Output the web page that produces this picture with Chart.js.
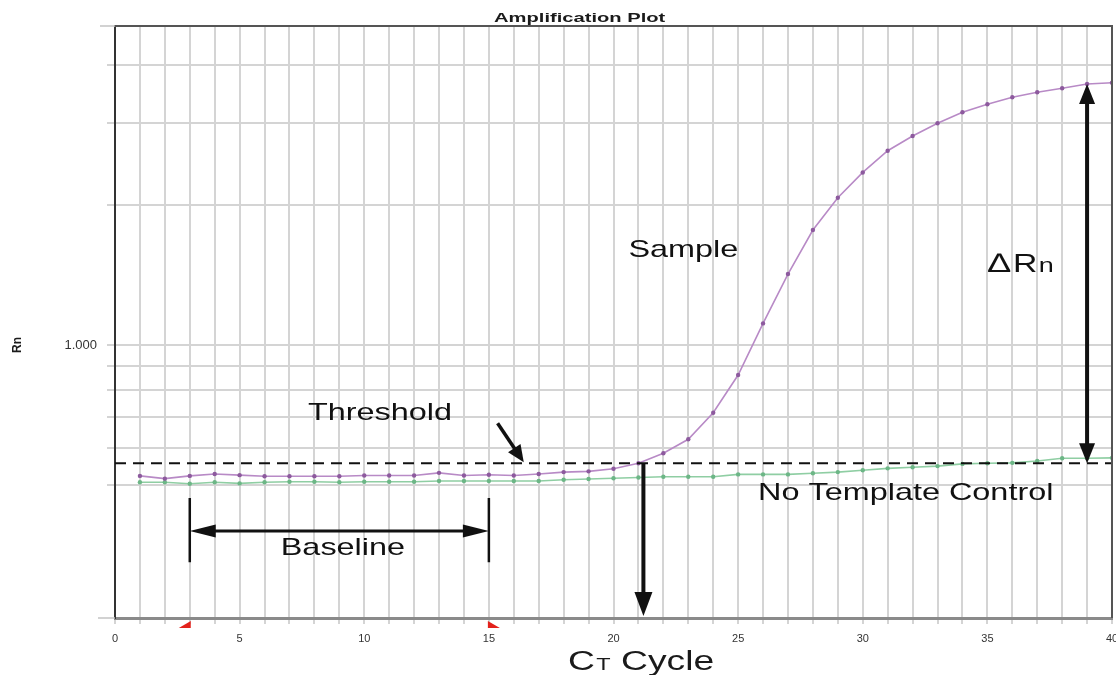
<!DOCTYPE html>
<html>
<head>
<meta charset="utf-8">
<title>Amplification Plot</title>
<script src="https://cdn.jsdelivr.net/npm/chart.js@4.4.1/dist/chart.umd.min.js"></script>
<style>
  html, body { margin: 0; padding: 0; background: #ffffff; }
  #wrap { width: 1116px; height: 675px; position: relative; }
  canvas { display: block; }
</style>
</head>
<body>
<div id="wrap"><canvas id="plot" width="1116" height="675"></canvas></div>
<script>
// ---- data -------------------------------------------------------------
const cycles = [1,2,3,4,5,6,7,8,9,10,11,12,13,14,15,16,17,18,19,20,
                21,22,23,24,25,26,27,28,29,30,31,32,33,34,35,36,37,38,39,40];

// normalised reporter signal (Rn) of the amplified sample
const sampleRn = [0.523,0.516,0.523,0.528,0.525,0.522,0.522,0.522,0.522,0.524,
                  0.524,0.524,0.531,0.524,0.526,0.524,0.528,0.533,0.535,0.542,
                  0.557,0.585,0.627,0.715,0.862,1.113,1.421,1.767,2.074,2.350,
                  2.617,2.815,2.998,3.166,3.293,3.410,3.495,3.565,3.641,3.665];

// normalised reporter signal (Rn) of the no-template control
const ntcRn = [0.507,0.507,0.503,0.507,0.504,0.507,0.508,0.508,0.507,0.508,
               0.508,0.508,0.510,0.510,0.510,0.510,0.510,0.513,0.515,0.517,
               0.519,0.521,0.521,0.521,0.527,0.527,0.527,0.530,0.533,0.538,
               0.543,0.546,0.549,0.555,0.557,0.558,0.563,0.571,0.571,0.572];

const thresholdRn = 0.557;      // detection threshold
const ctCycle = 21.2;           // cycle where the sample crosses the threshold
const baselineStart = 3;        // baseline window
const baselineEnd = 15;
const deltaCycle = 39;          // cycle where delta Rn is marked

const xRange = [0, 40];
const yRange = [0.2588, 4.853];
const yGridValues = [0.5, 0.6, 0.7, 0.8, 0.9, 1, 2, 3, 4];
const yLabelValues = [1];
const xLabelStep = 5;

// ---- helpers ----------------------------------------------------------
const FONT = '"Liberation Sans", Arial, Helvetica, sans-serif';
const STRETCH = 1.35;

function stretchedText(ctx, parts, x, y, sx) {
  // parts: [{text, size, bold, dx, dy}] drawn one after another, left aligned
  ctx.save();
  ctx.translate(x, y);
  ctx.scale(sx, 1);
  let cx = 0;
  for (const p of parts) {
    ctx.font = (p.bold ? 'bold ' : '') + p.size + 'px ' + FONT;
    ctx.fillText(p.text, cx + (p.dx || 0), p.dy || 0);
    cx += ctx.measureText(p.text).width + (p.dx || 0);
  }
  ctx.restore();
}

function arrowHead(ctx, x, y, ang, len, halfW) {
  ctx.beginPath();
  ctx.moveTo(x, y);
  ctx.lineTo(x - len * Math.cos(ang) + halfW * Math.sin(ang), y - len * Math.sin(ang) - halfW * Math.cos(ang));
  ctx.lineTo(x - len * Math.cos(ang) - halfW * Math.sin(ang), y - len * Math.sin(ang) + halfW * Math.cos(ang));
  ctx.closePath();
  ctx.fill();
}

// line from (x1,y1) to (x2,y2) with heads at the requested ends
function arrow(ctx, x1, y1, x2, y2, opt) {
  const ang = Math.atan2(y2 - y1, x2 - x1);
  const L = opt.len, W = opt.halfW;
  let sx = x1, sy = y1, ex = x2, ey = y2;
  if (opt.end) { ex = x2 - (L - 2) * Math.cos(ang); ey = y2 - (L - 2) * Math.sin(ang); }
  if (opt.start) { sx = x1 + (L - 2) * Math.cos(ang); sy = y1 + (L - 2) * Math.sin(ang); }
  ctx.lineWidth = opt.width;
  ctx.beginPath();
  ctx.moveTo(sx, sy);
  ctx.lineTo(ex, ey);
  ctx.stroke();
  if (opt.end) arrowHead(ctx, x2, y2, ang, L, W);
  if (opt.start) arrowHead(ctx, x1, y1, ang + Math.PI, L, W);
}

// ---- annotation layer -------------------------------------------------
const annotations = {
  id: 'annotations',
  afterDatasetsDraw(chart) {
    const ctx = chart.ctx;
    const xs = chart.scales.x, ys = chart.scales.y;
    const a = chart.chartArea;
    const X = v => xs.getPixelForValue(v);
    const Y = v => ys.getPixelForValue(v);

    ctx.save();
    // frame: top and right edges
    ctx.strokeStyle = '#555555';
    ctx.lineWidth = 2;
    ctx.beginPath();
    ctx.moveTo(a.left, a.top);
    ctx.lineTo(a.right, a.top);
    ctx.lineTo(a.right, a.bottom);
    ctx.stroke();
    // long ticks at the ends of the value axis
    ctx.strokeStyle = '#c4c4c4';
    ctx.lineWidth = 1.5;
    ctx.beginPath();
    ctx.moveTo(a.left - 15, a.top); ctx.lineTo(a.left, a.top);
    ctx.moveTo(a.left - 17, a.bottom); ctx.lineTo(a.left, a.bottom);
    ctx.stroke();

    ctx.fillStyle = '#111111';
    ctx.strokeStyle = '#111111';
    ctx.lineCap = 'butt';

    // Ct: drop from threshold crossing to the cycle axis
    arrow(ctx, X(ctCycle), Y(thresholdRn), X(ctCycle), a.bottom - 2, {end: true, len: 24, halfW: 9, width: 4});

    // delta Rn between threshold and plateau
    const dIdx = cycles.indexOf(deltaCycle);
    arrow(ctx, X(deltaCycle), Y(sampleRn[dIdx]), X(deltaCycle), Y(thresholdRn), {start: true, end: true, len: 20, halfW: 8, width: 4});

    // pointer to the threshold line
    arrow(ctx, X(15.35), Y(0.679), X(16.4), Y(thresholdRn) - 1, {end: true, len: 17, halfW: 7.5, width: 3.5});

    // baseline window
    const byMid = Y(0.398);
    arrow(ctx, X(baselineStart), byMid, X(baselineEnd), byMid, {start: true, end: true, len: 26, halfW: 6.5, width: 3});
    ctx.lineWidth = 2.5;
    ctx.beginPath();
    ctx.moveTo(X(baselineStart), Y(0.469)); ctx.lineTo(X(baselineStart), Y(0.341));
    ctx.moveTo(X(baselineEnd), Y(0.469)); ctx.lineTo(X(baselineEnd), Y(0.341));
    ctx.stroke();

    // baseline markers on the cycle axis
    ctx.fillStyle = '#e3221c';
    const bY = a.bottom + 3;
    ctx.beginPath();
    ctx.moveTo(X(baselineStart) + 1, bY); ctx.lineTo(X(baselineStart) + 1, bY + 7); ctx.lineTo(X(baselineStart) - 11, bY + 7);
    ctx.closePath(); ctx.fill();
    ctx.beginPath();
    ctx.moveTo(X(baselineEnd) - 1, bY); ctx.lineTo(X(baselineEnd) - 1, bY + 7); ctx.lineTo(X(baselineEnd) + 11, bY + 7);
    ctx.closePath(); ctx.fill();

    // labels inside the plot
    ctx.fillStyle = '#111111';
    ctx.textBaseline = 'alphabetic';
    ctx.textAlign = 'left';
    stretchedText(ctx, [{text: 'Sample', size: 24}], X(20.6), Y(1.546), STRETCH);
    stretchedText(ctx, [{text: 'Threshold', size: 24}], X(7.74), Y(0.690), STRETCH);
    stretchedText(ctx, [{text: 'No Template Control', size: 24}], X(25.8), Y(0.464), STRETCH);
    stretchedText(ctx, [{text: 'Baseline', size: 24}], X(6.65), Y(0.3535), STRETCH);
    stretchedText(ctx, [{text: '\u2206', size: 27}, {text: 'R', size: 25, dx: 2}, {text: 'n', size: 20, dx: 1}], X(35.03), Y(1.436), STRETCH);

    // chart title, value-axis title and cycle-axis title
    ctx.fillStyle = '#1a1a1a';
    stretchedText(ctx, [{text: 'Amplification Plot', size: 13, bold: true}], 494, 22, 1.55);
    stretchedText(ctx, [{text: 'C', size: 27}, {text: 'T', size: 17, dx: 1}, {text: ' Cycle', size: 27}], 568, 670, 1.38);

    ctx.save();
    ctx.translate(21, 345);
    ctx.rotate(-Math.PI / 2);
    ctx.font = 'bold 12px ' + FONT;
    ctx.textAlign = 'center';
    ctx.fillText('Rn', 0, 0);
    ctx.restore();

    ctx.restore();
  }
};

// ---- chart ------------------------------------------------------------
const toPoints = vals => cycles.map((c, i) => ({x: c, y: vals[i]}));

new Chart(document.getElementById('plot'), {
  type: 'line',
  data: {
    datasets: [
      {
        label: 'Threshold',
        data: [{x: xRange[0], y: thresholdRn}, {x: xRange[1], y: thresholdRn}],
        borderColor: '#111111',
        borderWidth: 2,
        borderDash: [11, 7],
        pointRadius: 0
      },
      {
        label: 'Sample',
        data: toPoints(sampleRn),
        borderColor: '#b88ac6',
        borderWidth: 1.6,
        pointRadius: 2.2,
        pointBackgroundColor: '#8d5a9e',
        pointBorderWidth: 0,
        tension: 0
      },
      {
        label: 'No Template Control',
        data: toPoints(ntcRn),
        borderColor: '#8fcea3',
        borderWidth: 1.6,
        pointRadius: 2.2,
        pointBackgroundColor: '#6cb686',
        pointBorderWidth: 0,
        tension: 0
      }
    ]
  },
  options: {
    responsive: false,
    animation: false,
    devicePixelRatio: 1,
    layout: { padding: { left: 0, right: 3, top: 26, bottom: 0 } },
    plugins: { legend: { display: false }, title: { display: false }, tooltip: { enabled: false } },
    scales: {
      x: {
        type: 'linear',
        min: xRange[0],
        max: xRange[1],
        border: { color: '#8a8a8a', width: 3 },
        grid: { color: '#d4d4d4', lineWidth: 2, tickLength: 6, drawTicks: true },
        ticks: {
          stepSize: 1,
          autoSkip: false,
          maxRotation: 0,
          padding: 8,
          color: '#333333',
          font: { family: FONT, size: 11 },
          callback: v => (v % xLabelStep === 0 ? String(v) : '')
        },
        afterFit(scale) {
          scale.height = 57;
          scale.paddingLeft = 0;
          scale.paddingRight = 0;
        }
      },
      y: {
        type: 'logarithmic',
        min: yRange[0],
        max: yRange[1],
        border: { color: '#333333', width: 2 },
        grid: { color: '#d4d4d4', lineWidth: 2, tickLength: 8, drawTicks: true },
        ticks: {
          padding: 10,
          color: '#333333',
          font: { family: FONT, size: 13 },
          callback: v => (yLabelValues.includes(v) ? v.toFixed(3) : '')
        },
        afterBuildTicks(scale) {
          scale.ticks = yGridValues.map(v => ({value: v}));
        },
        afterFit(scale) {
          scale.width = 115;
          scale.paddingTop = 0;
          scale.paddingBottom = 0;
        }
      }
    }
  },
  plugins: [annotations]
});
</script>
</body>
</html>
